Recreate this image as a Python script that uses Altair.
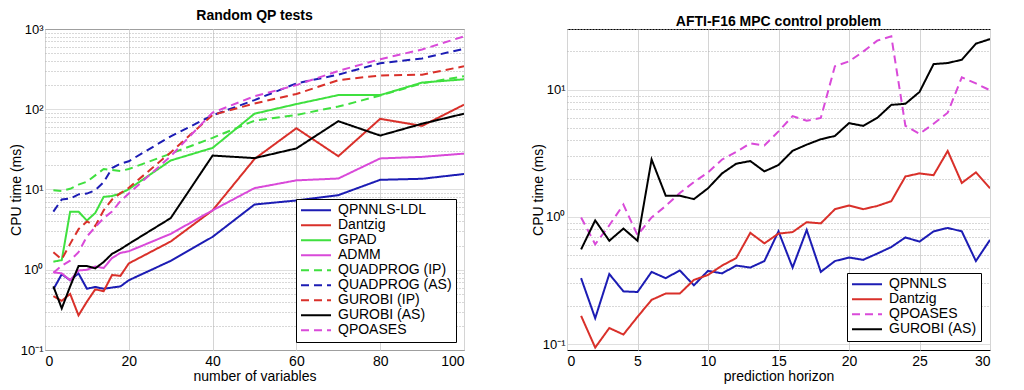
import altair as alt
import pandas as pd

FONT = "Liberation Sans"

# ---------------- Left panel: Random QP tests ----------------
left_x = [2, 4, 6, 8, 10, 12, 14, 16, 18, 20, 30, 40, 50, 60, 70, 80, 90, 100]
left_names = ["QPNNLS-LDL", "Dantzig", "GPAD", "ADMM", "QUADPROG (IP)",
              "QUADPROG (AS)", "GUROBI (IP)", "GUROBI (AS)", "QPOASES"]
qpnnls_ldl = [0.57, 0.88, 0.74, 0.9, 0.58, 0.61, 0.58, 0.6, 0.62, 0.74, 1.29, 2.57, 6.5, 7.3, 8.5, 13.2, 13.6, 15.6]
dantzig_l = [0.47, 0.41, 0.5, 0.27, 0.4, 0.57, 0.54, 0.86, 0.84, 1.2, 2.25, 5.5, 24, 58, 26, 76, 62, 114]
gpad = [1.26, 1.32, 5.3, 5.3, 4.1, 5.1, 8.1, 8.3, 8.9, 10.1, 23, 33, 88, 116, 150, 150, 215, 236]
admm = [0.93, 0.9, 0.74, 0.98, 1.0, 1.1, 1.05, 1.4, 1.62, 1.7, 2.8, 5.5, 10.4, 13, 13.7, 24.4, 25.5, 28]
quadprog_ip = [9.8, 9.6, 10.2, 11.5, 12.5, 15.0, 18.0, 17.5, 17.0, 18.0, 28, 44, 72, 85, 108, 148, 210, 258]
quadprog_as = [5.3, 7.5, 7.7, 8.7, 8.9, 9.8, 12.3, 18.5, 21, 22.5, 46, 84, 130, 210, 270, 375, 430, 567]
gurobi_ip = [1.65, 1.35, 2.1, 3.2, 4.0, 3.5, 5.5, 7.5, 9.0, 10.5, 29, 85, 118, 155, 230, 264, 270, 343]
gurobi_as_l = [0.62, 0.33, 0.62, 1.11, 1.11, 1.04, 1.25, 1.58, 1.8, 2.1, 4.4, 26.5, 24.6, 32.5, 71, 47, 66, 88]
qpoases_l = [0.92, 1.12, 1.3, 1.66, 2.6, 3.4, 4.4, 5.3, 7.2, 8.9, 26, 91, 145, 200, 300, 420, 556, 810]
left_series = [qpnnls_ldl, dantzig_l, gpad, admm, quadprog_ip, quadprog_as, gurobi_ip, gurobi_as_l, qpoases_l]
left_colors = ["#1c1cb4", "#d9302a", "#3fe03f", "#d94ad9", "#3fe03f", "#1c1cb4", "#d9302a", "#000000", "#d94ad9"]
left_dashes = [[1, 0], [1, 0], [1, 0], [1, 0], [8, 5], [8, 5], [8, 5], [1, 0], [8, 5]]
left_xticks = [0, 20, 40, 60, 80, 100]
left_yticks = [0.1, 0.2, 0.3, 0.4, 0.5, 0.6, 0.7, 0.8, 0.9,
               1, 2, 3, 4, 5, 6, 7, 8, 9,
               10, 20, 30, 40, 50, 60, 70, 80, 90,
               100, 200, 300, 400, 500, 600, 700, 800, 900, 1000]

# ---------------- Right panel: AFTI-F16 MPC ----------------
right_x = list(range(1, 31))
right_names = ["QPNNLS", "Dantzig", "QPOASES", "GUROBI (AS)"]
qpnnls_r = [0.33, 0.16, 0.356, 0.26, 0.257, 0.37, 0.33, 0.38, 0.29, 0.377, 0.36, 0.415, 0.4, 0.45, 0.77,
            0.40, 0.79, 0.37, 0.45, 0.48, 0.46, 0.515, 0.58, 0.69, 0.64, 0.77, 0.82, 0.77, 0.45, 0.66]
dantzig_r = [0.167, 0.094, 0.134, 0.119, 0.164, 0.223, 0.25, 0.25, 0.32, 0.35, 0.415, 0.475, 0.75, 0.62, 0.74,
             0.76, 0.91, 0.89, 1.15, 1.23, 1.15, 1.22, 1.33, 2.08, 2.2, 2.13, 3.3, 1.85, 2.24, 1.68]
qpoases_r = [0.99, 0.61, 0.86, 1.25, 0.72, 0.99, 1.22, 1.54, 1.88, 2.24, 2.83, 3.24, 3.79, 3.64, 4.7,
             6.2, 5.7, 6.0, 15.3, 16.7, 19.9, 24.3, 26.3, 5.2, 4.5, 5.4, 6.6, 12.5, 11.2, 9.9]
gurobi_as_r = [0.556, 0.94, 0.65, 0.81, 0.65, 2.83, 1.47, 1.47, 1.38, 1.68, 2.2, 2.62, 2.75, 2.28, 2.56,
               3.31, 3.7, 4.08, 4.33, 5.46, 5.2, 6.0, 7.6, 7.75, 9.6, 15.9, 16.2, 17.2, 23, 25]
right_series = [qpnnls_r, dantzig_r, qpoases_r, gurobi_as_r]
right_colors = ["#1c1cb4", "#d9302a", "#d94ad9", "#000000"]
right_dashes = [[1, 0], [1, 0], [8, 5], [1, 0]]
right_xticks = [0, 5, 10, 15, 20, 25, 30]
right_yticks = [0.1, 0.2, 0.3, 0.4, 0.5, 0.6, 0.7, 0.8, 0.9,
                1, 2, 3, 4, 5, 6, 7, 8, 9,
                10, 20, 30]

MAJOR_TEST = "indexof([0.1, 1, 10, 100, 1000], datum.value) >= 0"
LABEL_EXPR = ("datum.value == 1000 ? '10³' : datum.value == 100 ? '10²' : "
              "datum.value == 10 ? '10¹' : datum.value == 1 ? '10⁰' : "
              "datum.value == 0.1 ? '10⁻¹' : ''")


def long_df(xs, names, series):
    rows = []
    for name, vals in zip(names, series):
        for x, v in zip(xs, vals):
            rows.append({"x": x, "y": v, "series": name})
    return pd.DataFrame(rows)


def panel(xs, names, series, colors, dashes, xdom, xticks, ydom, yticks,
          title, xtitle, w, h, leg_offset):
    df = long_df(xs, names, series)
    legend = alt.Legend(
        title=None, orient="bottom-right", offset=leg_offset,
        fillColor="white", strokeColor="black", padding=4, cornerRadius=0,
        symbolType="stroke", symbolSize=900, symbolStrokeWidth=2,
        labelFont=FONT, labelFontSize=14, labelColor="black",
        labelOffset=6, rowPadding=0, clipHeight=14.5, labelLimit=300,
    )
    return alt.Chart(df).mark_line(strokeWidth=2, clip=True).encode(
        x=alt.X("x:Q", scale=alt.Scale(domain=xdom, nice=False, zero=False),
                axis=alt.Axis(values=xticks, title=xtitle, grid=True,
                              gridColor="#d4d4d4", gridWidth=1, ticks=False,
                              domain=False, labelPadding=4, titlePadding=1)),
        y=alt.Y("y:Q", scale=alt.Scale(type="log", domain=ydom, nice=False),
                axis=alt.Axis(values=yticks, title="CPU time (ms)", labelExpr=LABEL_EXPR,
                              grid=True, ticks=False, domain=False,
                              gridDash={"condition": {"test": MAJOR_TEST, "value": [1, 0]},
                                        "value": [1, 2]},
                              gridColor={"condition": {"test": MAJOR_TEST, "value": "#d4d4d4"},
                                         "value": "#b0b0b0"},
                              labelPadding=2, titleX=-22, labelFontSize=13)),
        color=alt.Color("series:N", scale=alt.Scale(domain=names, range=colors),
                        sort=names, legend=legend),
        strokeDash=alt.StrokeDash("series:N", scale=alt.Scale(domain=names, range=dashes),
                                  sort=names, legend=legend),
    ).properties(
        width=w, height=h,
        title=alt.TitleParams(title, font=FONT, fontSize=14, fontWeight="bold",
                              color="black", offset=0, anchor="middle"),
    )


left = panel(left_x, left_names, left_series, left_colors, left_dashes,
             [0, 100], left_xticks, [0.1, 1000], left_yticks,
             "Random QP tests", "number of variables", 419, 321, 8)
right = panel(right_x, right_names, right_series, right_colors, right_dashes,
              [0, 30], right_xticks, [0.09, 30], right_yticks,
              "AFTI-F16 MPC control problem", "prediction horizon", 423, 321, 9)

chart = alt.hconcat(left, right, spacing=65).resolve_scale(
    color="independent", strokeDash="independent"
).resolve_legend(color="independent", strokeDash="independent").configure(
    padding=0, background="white"
).configure_view(
    stroke="black", strokeWidth=1
).configure_axis(
    labelFont=FONT, titleFont=FONT, labelFontSize=14, titleFontSize=14,
    labelColor="black", titleColor="black", titleFontWeight="normal",
)

chart.save("out.html", embed_options={"renderer": "svg", "actions": False})
